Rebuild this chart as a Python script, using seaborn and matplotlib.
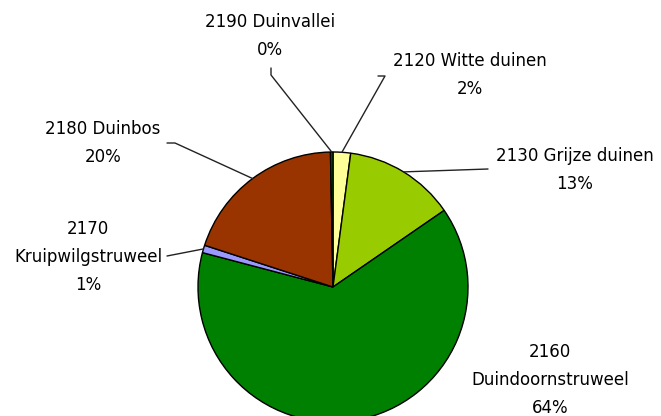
import numpy as np
import matplotlib
matplotlib.use("Agg")
import matplotlib.pyplot as plt
import seaborn as sns

# habitat types and their share (%)
codes = ['2120', '2130', '2160', '2170', '2180', '2190']
names = ['Witte duinen', 'Grijze duinen', 'Duindoornstruweel', 'Kruipwilgstruweel', 'Duinbos', 'Duinvallei']
shares = [2.1, 13.3, 63.7, 0.9, 19.7, 0.3]
colors = ['#FFFF99', '#99CC00', '#008000', '#9999FF', '#993300', '#006600']

# label text layout (pixel coords, y measured from top) and line breaks
label_pos = [(470, 75), (575, 170), (550, 380), (88, 257), (103, 143), (270, 36)]
label_split = [False, False, True, True, False, False]
# leader lines: label end / elbow, None for no leader
leaders = [[(378, 76), (385, 76)], [(488, 169)], None, [(167, 256)], [(167, 143), (175, 143)], [(271, 68), (271, 75)]]

W, H = 661, 416
cx, cy, R = 333, 287, 135

sns.set_theme(style="white")
plt.rcParams['font.family'] = ['DejaVu Sans']

fig = plt.figure(figsize=(W / 100, H / 100), dpi=100)
ax = fig.add_axes([0, 0, 1, 1])

ax.pie(shares, colors=colors, startangle=90, counterclock=False,
       center=(cx, H - cy), radius=R, frame=True,
       wedgeprops=dict(edgecolor='black', linewidth=1))
ax.set_xlim(0, W)
ax.set_ylim(0, H)
ax.set_aspect('auto')
ax.axis('off')

cum = np.cumsum([0] + shares[:-1])
for i, (code, name, val) in enumerate(zip(codes, names, shares)):
    pct = f'{round(val):.0f}%'
    if label_split[i]:
        txt = f'{code}\n{name}\n{pct}'
    else:
        txt = f'{code} {name}\n{pct}'
    x, y = label_pos[i]
    ax.text(x, H - y, txt, ha='center', va='center', multialignment='center',
            fontsize=12, linespacing=1.68, color='black')
    if leaders[i] is not None:
        ang = np.deg2rad(90 - 360 * (cum[i] + val / 2) / 100)
        ex, ey = cx + R * np.cos(ang), (H - cy) + R * np.sin(ang)
        pts = [(px, H - py) for px, py in leaders[i]] + [(ex, ey)]
        xs, ys = zip(*pts)
        ax.plot(xs, ys, color='#222222', linewidth=1)

fig.savefig('out.png', dpi=100)
